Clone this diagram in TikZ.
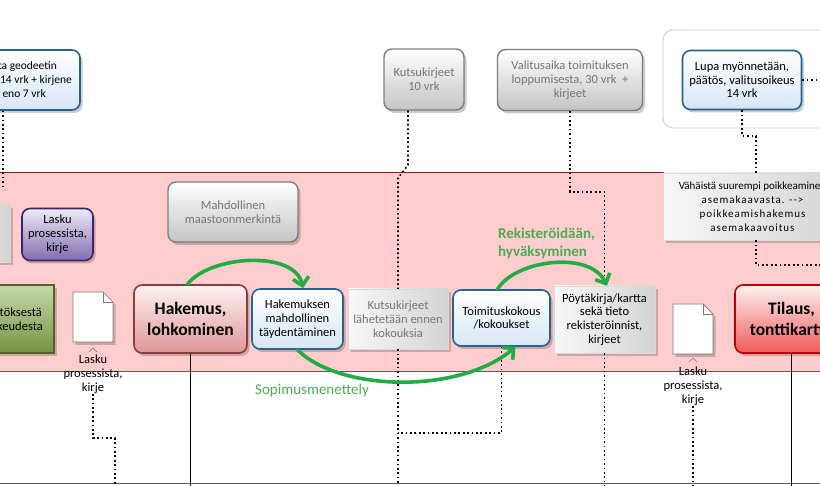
\documentclass[tikz,border=0pt]{standalone}
\usepackage{fontspec}
\setmainfont{Carlito}
\usetikzlibrary{arrows.meta,shadows,calc}
\definecolor{bandpink}{RGB}{255,205,205}
\definecolor{bandline}{RGB}{140,30,30}
\definecolor{laneline}{RGB}{90,90,90}
\definecolor{bluebd}{RGB}{36,100,145}
\definecolor{bluefill}{RGB}{214,230,247}
\definecolor{graybd}{RGB}{125,125,125}
\definecolor{graytxt}{RGB}{118,118,118}
\definecolor{grayfill}{RGB}{196,196,196}
\definecolor{purpbd}{RGB}{60,35,110}
\definecolor{purptop}{RGB}{238,235,247}
\definecolor{purpbot}{RGB}{128,108,175}
\definecolor{greenbd}{RGB}{80,98,40}
\definecolor{greentop}{RGB}{200,216,170}
\definecolor{greenbot}{RGB}{118,146,68}
\definecolor{hakbd}{RGB}{140,60,60}
\definecolor{haktop}{RGB}{255,242,242}
\definecolor{hakbot}{RGB}{222,150,150}
\definecolor{tilbd}{RGB}{192,0,0}
\definecolor{tiltop}{RGB}{255,240,240}
\definecolor{tilbot}{RGB}{240,90,90}
\definecolor{arrgreen}{RGB}{34,172,72}
\definecolor{txtgreen}{RGB}{75,172,85}
\definecolor{framebd}{RGB}{185,205,222}
\definecolor{docbd}{RGB}{120,120,120}
\tikzset{
  base/.style={align=center, inner sep=2pt, font=\fontsize{12.5}{13.8}\selectfont},
  shad/.style={drop shadow={shadow xshift=2.5pt,shadow yshift=-3pt,opacity=0.2,fill=black}},
  bluebox/.style={base, shad, rounded corners=8pt, draw=bluebd, line width=1.6pt, top color=white, bottom color=bluefill},
  graybox/.style={base, shad, rounded corners=8pt, draw=graybd, line width=1.4pt, top color=white, bottom color=grayfill, text=graytxt},
  flatbox/.style={base, shad, draw=black!15, line width=0.4pt, left color=white!97!black, right color=black!17},
  purpbox/.style={base, shad, rounded corners=8pt, draw=purpbd, line width=1.6pt, top color=purptop, bottom color=purpbot},
  greenbox/.style={base, shad, draw=greenbd, line width=1.2pt, top color=greentop, bottom color=greenbot},
  hakbox/.style={base, shad, rounded corners=8pt, draw=hakbd, line width=1.6pt, top color=haktop, bottom color=hakbot, font=\fontsize{17.5}{21.5}\selectfont\bfseries},
  tilbox/.style={base, shad, rounded corners=8pt, draw=tilbd, line width=1.6pt, top color=tiltop, bottom color=tilbot, font=\fontsize{17.5}{21.5}\selectfont\bfseries},
  plaintext/.style={base, inner sep=0pt},
  gtext/.style={align=left, inner sep=0pt, text=txtgreen, font=\fontsize{15}{17.5}\selectfont},
  dotline/.style={draw=black, line width=1.7pt, dash pattern=on 1.7pt off 2.7pt},
  solidline/.style={draw=black, line width=1pt},
  greenarr/.style={draw=arrgreen, line width=3.6pt, line cap=round, -{Straight Barb[length=8pt,width=16pt]}},
  docshape/.style={draw=docbd, fill=white, line width=0.7pt, shad},
}
\begin{document}
\begin{tikzpicture}[x=1pt,y=-1pt]
\useasboundingbox (0,0) rectangle (820,486);
\clip (0,0) rectangle (820,486);
\fill[white] (0,0) rectangle (820,486);
% swimlane band
\fill[bandpink] (0,173) rectangle (820,371);
\draw[bandline, line width=1pt] (0,173) -- (820,173);
\draw[laneline, line width=0.9pt] (0,371.5) -- (820,371.5);
\draw[laneline, line width=0.9pt] (0,483) -- (820,483);
% frame around Lupa
\node[draw=framebd, line width=0.9pt, rounded corners=10pt, minimum width=197pt, minimum height=98pt, inner sep=0pt] (frame) at (761.5,79) {};

% top row
\node[bluebox, minimum width=140pt, minimum height=60pt] (geo) at (10,80) {};
\node[plaintext, anchor=east, font=\fontsize{11.5}{13}\selectfont] (geoA) at (57,66) {ta geodeetin};
\node[plaintext, anchor=east, font=\fontsize{11.5}{13}\selectfont] (geoB) at (72,80) {14 vrk + kirjene};
\node[plaintext, anchor=east, font=\fontsize{11.5}{13}\selectfont] (geoC) at (46,94) {eno 7 vrk};
\node[graybox, minimum width=80pt, minimum height=61pt] (k10) at (424,79.5) {Kutsukirjeet\\10 vrk};
\node[graybox, minimum width=145pt, minimum height=61pt] (valit) at (570,80) {Valitusaika toimituksen\\loppumisesta, 30 vrk\ \ +\\kirjeet};
\node[bluebox, minimum width=119pt, minimum height=59pt] (lupa) at (742,80) {Lupa myönnetään,\\päätös, valitusoikeus\\14 vrk};

% band upper row
\node[flatbox, minimum width=70pt, minimum height=57pt] (lgray) at (-25,233.5) {};
\node[purpbox, minimum width=71pt, minimum height=52pt] (lasku) at (57.5,234.5) {Lasku\\prosessista,\\kirje};
\node[graybox, minimum width=130pt, minimum height=60pt] (mahd) at (233,212) {Mahdollinen\\maastoonmerkintä};
\node[flatbox, minimum width=178pt, minimum height=67pt, font=\fontsize{11}{14}\selectfont] (vah) at (752.5,206.5) {Vähäistä suurempi poikkeaminen\\{\addfontfeature{LetterSpace=9}asemakaavasta. -{}-{}>}\\{\addfontfeature{LetterSpace=9}poikkeamishakemus}\\{\addfontfeature{LetterSpace=9}asemakaavoitus}};

% band main row
\node[greenbox, minimum width=114pt, minimum height=68pt] (paat) at (-3,319) {};
\node[plaintext, anchor=east] (paatA) at (42,312) {ätöksestä};
\node[plaintext, anchor=east] (paatB) at (43,326) {oikeudesta};
\node[hakbox, minimum width=113pt, minimum height=68pt] (hak) at (190.5,319) {Hakemus,\\lohkominen};
\node[bluebox, minimum width=91pt, minimum height=60pt] (hakt) at (297.5,319) {Hakemuksen\\mahdollinen\\täydentäminen};
\node[flatbox, text=graytxt, minimum width=100pt, minimum height=60pt] (kutL) at (398,319) {Kutsukirjeet\\lähetetään ennen\\kokouksia};
\node[bluebox, minimum width=97pt, minimum height=56pt] (toim) at (501.5,318) {Toimituskokous\\/kokoukset};
\node[flatbox, minimum width=101pt, minimum height=67pt] (poyta) at (604.5,319.5) {Pöytäkirja/kartta\\sekä tieto\\rekisteröinnist,\\kirjeet};
\node[tilbox, minimum width=113pt, minimum height=68pt] (til) at (791.5,319) {Tilaus,\\tonttikartta};

% document icons
\draw[docshape] (73,292) -- (103,292) -- (113,302) -- (113,342) -- (73,342) -- cycle;
\draw[docbd, line width=0.7pt] (103,292) -- (103,302) -- (113,302);
\draw[docbd, line width=0.6pt] (89,352) -- (93,348) -- (97,352);
\node[plaintext, anchor=north] (lab1) at (93,355) {Lasku\\prosessista,\\kirje};
\draw[docshape] (673,304) -- (703,304) -- (713,314) -- (713,354) -- (673,354) -- cycle;
\draw[docbd, line width=0.7pt] (703,304) -- (703,314) -- (713,314);
\draw[docbd, line width=0.6pt] (689,362) -- (693,358) -- (697,362);
\node[plaintext, anchor=north] (lab2) at (693,367) {Lasku\\prosessista,\\kirje};

% green labels
\node[gtext, anchor=west, font=\fontsize{15}{17.5}\selectfont\bfseries] (reg) at (498,243.5) {Rekisteröidään,\\hyväksyminen};
\node[gtext, anchor=west] (sop) at (255,391) {Sopimusmenettely};

% coordinates
\coordinate (g3) at (3,190);
\coordinate (d1a) at (93,438);
\coordinate (d1b) at (115,438);
\coordinate (d1c) at (115,486);
\coordinate (k1) at (408,165);
\coordinate (k2) at (398,178);
\coordinate (kend) at (398,486);
\coordinate (tj) at (501.5,433);
\coordinate (tk) at (398,433);
\coordinate (v1) at (570,192);
\coordinate (v2) at (604.5,192);
\coordinate (pend) at (604.5,486);
\coordinate (l2end) at (693,486);
\coordinate (u1) at (742,136);
\coordinate (u2) at (756,136);
\coordinate (ur) at (820,80);
\coordinate (w1) at (756,265);
\coordinate (w2) at (820,265);
\coordinate (hend) at (190.5,486);
\coordinate (tend) at (791.5,486);

% dotted connectors
\draw[dotline] ($(geo.south)+(-7,0)$) -- (g3);
\draw[dotline] (lab1.south) -- (d1a) -- (d1b) -- (d1c);
\draw[dotline] ($(k10.south)+(-16,0)$) -- (k1) -- (k2) -- (kutL.north);
\draw[dotline] (kutL.south) -- (kend);
\draw[dotline] (toim.south) -- (tj) -- (tk);
\draw[dotline] (valit.south) -- (v1) -- (v2) -- (poyta.north);
\draw[dotline] (poyta.south) -- (pend);
\draw[dotline] (lab2.south) -- (l2end);
\draw[dotline] (lupa.south) -- (u1) -- (u2) -- ($(vah.north)+(3.5,0)$);
\draw[dotline] (lupa.east) -- (ur);
\draw[dotline] ($(vah.south)+(3.5,0)$) -- (w1) -- (w2);

% solid lines
\draw[solidline] (hak.south) -- (hend);
\draw[solidline] (til.south) -- (tend);

% green arrows
\draw[greenarr] ($(hak.north)+(-3,0)$) .. controls (210,255) and (295,250) .. ($(hakt.north)+(5.5,0)$);
\draw[greenarr] (hakt.south) .. controls (340,392) and (460,394) .. ($(toim.south)+(14,0)$);
\draw[greenarr] ($(toim.north)+(-4,0)$) .. controls (515,260) and (590,250) .. ($(poyta.north)+(2.5,0)$);
\end{tikzpicture}
\end{document}
